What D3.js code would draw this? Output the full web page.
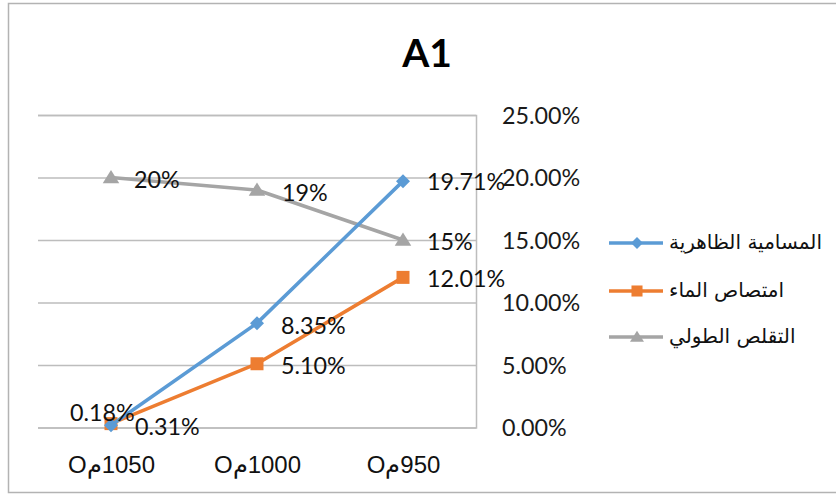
<!DOCTYPE html>
<html>
<head>
<meta charset="utf-8">
<script src="https://cdn.jsdelivr.net/npm/d3@7"></script>
<style>
  html, body { margin: 0; padding: 0; background: #fff; }
  svg { display: block; }
</style>
</head>
<body>
<svg id="chart" width="836" height="495"></svg>
<script>
// Firing temperatures (°C) along the x axis
const categories = ["1050", "1000", "950"];
// Series names shown in the legend
const seriesNames = ["المسامية الظاهرية", "امتصاص الماء", "التقلص الطولي"];
// Series values in percent
const porosity = [0.18, 8.35, 19.71];
const absorption = [0.31, 5.10, 12.01];
const shrinkage = [20, 19, 15];
// Right-hand axis ticks (percent)
const yTicks = [0, 5, 10, 15, 20, 25];
const chartTitle = "A1";

const svg = d3.select("#chart");
const W = 836, H = 495;

// Outer frame
svg.append("rect")
  .attr("x", 8.5).attr("y", 3.5)
  .attr("width", W + 10).attr("height", 489)
  .attr("fill", "#fff").attr("stroke", "#b3b3b3").attr("stroke-width", 1.5);

const plot = { left: 38, right: 476, top: 115, bottom: 427.5 };

const x = d3.scalePoint().domain(categories).range([plot.left, plot.right]).padding(0.5);
const y = d3.scaleLinear().domain([0, 25]).range([plot.bottom, plot.top]);

// Title
svg.append("text")
  .attr("x", 427).attr("y", 67)
  .attr("text-anchor", "middle")
  .attr("font-family", "Lato, 'Open Sans', sans-serif")
  .attr("font-weight", 700)
  .attr("font-size", 39)
  .attr("fill", "#000")
  .text(chartTitle);

// Horizontal gridlines and right-hand axis
const yAxis = d3.axisRight(y)
  .tickValues(yTicks)
  .tickSize(-(plot.right - plot.left))
  .tickPadding(26)
  .tickFormat(d => d.toFixed(2) + "%");

const gy = svg.append("g")
  .attr("transform", `translate(${plot.right},0)`)
  .call(yAxis);
gy.select(".domain").attr("stroke", "#bdbdbd").attr("stroke-width", 1.5);
gy.selectAll(".tick line").attr("stroke", "#bdbdbd").attr("stroke-width", 1.5);
gy.selectAll(".tick text")
  .attr("font-family", "Lato, 'Open Sans', sans-serif")
  .attr("font-size", 23.3)
  .attr("fill", "#1a1a1a")
  .attr("dy", "0.36em");

// X axis category labels
const xAxis = d3.axisBottom(x).tickSize(0).tickPadding(0)
  .tickFormat(d => "O" + "م" + d);
const gx = svg.append("g")
  .attr("transform", `translate(0,${plot.bottom})`)
  .call(xAxis);
gx.select(".domain").remove();
gx.selectAll(".tick text")
  .attr("y", 45)
  .attr("dy", 0)
  .attr("font-family", "'Liberation Sans Narrow', 'Liberation Sans', sans-serif")
  .attr("font-size", 24)
  .attr("fill", "#111")
  .style("unicode-bidi", "bidi-override")
  .style("direction", "ltr");

// Series definitions
const colors = ["#5b9bd5", "#ed7d31", "#a5a5a5"];
const values = [porosity, absorption, shrinkage];
const decimals = [2, 2, 0];
const markers = ["diamond", "square", "triangle"];
// Label offsets from each point [dx, dy], text anchored at its left edge
const labelOffsets = [
  [[-41, -13], [24, 2], [24, 0]],
  [[24, 3], [24, 2], [24, 1]],
  [[23, 2], [25, 3], [24, 2]]
];

function markerPath(type, s) {
  if (type === "diamond") return `M0,${-s}L${s},0L0,${s}L${-s},0Z`;
  if (type === "square") return `M${-s},${-s}H${s}V${s}H${-s}Z`;
  return `M0,${-s}L${s * 1.1},${s * 0.75}H${-s * 1.1}Z`;
}
const markerSize = { diamond: 7, square: 6.5, triangle: 7.5 };

const line = d3.line().x(d => x(d.c)).y(d => y(d.v));

// Draw grey first so the others sit on top
[2, 1, 0].forEach(i => {
  const pts = categories.map((c, j) => ({ c, v: values[i][j] }));
  svg.append("path")
    .datum(pts)
    .attr("d", line)
    .attr("fill", "none")
    .attr("stroke", colors[i])
    .attr("stroke-width", 3.5)
    .attr("stroke-linejoin", "round");
  svg.append("g").selectAll("path")
    .data(pts).join("path")
    .attr("transform", d => `translate(${x(d.c)},${y(d.v)})`)
    .attr("d", markerPath(markers[i], markerSize[markers[i]]))
    .attr("fill", colors[i]);
});

// Data labels
[0, 1, 2].forEach(i => {
  svg.append("g").selectAll("text")
    .data(values[i]).join("text")
    .attr("x", (v, j) => x(categories[j]) + labelOffsets[i][j][0])
    .attr("y", (v, j) => y(v) + labelOffsets[i][j][1])
    .attr("dy", "0.36em")
    .attr("font-family", "Lato, 'Open Sans', sans-serif")
    .attr("font-size", 23.3)
    .attr("fill", "#111")
    .text(v => v.toFixed(decimals[i]) + "%");
});

// Legend
const legendY = [243, 291, 337];
const lg = svg.append("g");
seriesNames.forEach((name, i) => {
  const g = lg.append("g").attr("transform", `translate(0,${legendY[i]})`);
  g.append("line")
    .attr("x1", 609).attr("x2", 663).attr("y1", 0).attr("y2", 0)
    .attr("stroke", colors[i]).attr("stroke-width", 3.5);
  g.append("path")
    .attr("transform", "translate(637,0)")
    .attr("d", markerPath(markers[i], markerSize[markers[i]] * 0.85))
    .attr("fill", colors[i]);
  g.append("text")
    .attr("x", 669).attr("y", 0).attr("dy", "0.3em")
    .attr("font-family", "'DejaVu Sans', 'Noto Sans', sans-serif")
    .attr("font-size", 20)
    .attr("fill", "#111")
    .text(name);
});
</script>
</body>
</html>
